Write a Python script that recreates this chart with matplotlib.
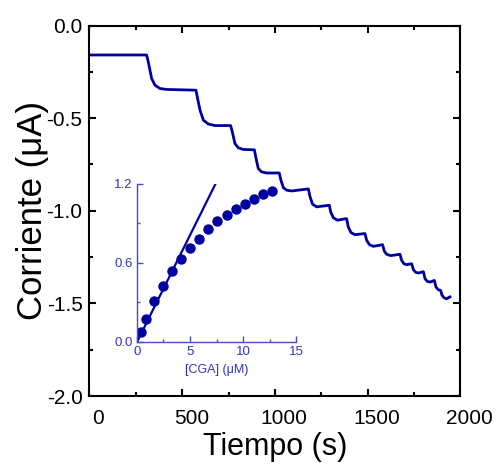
import matplotlib
matplotlib.use("Agg")
import matplotlib.pyplot as plt
import matplotlib.transforms as mtransforms
from matplotlib.ticker import MultipleLocator

plt.rcParams['font.family'] = ['Liberation Sans', 'DejaVu Sans']

# amperometric trace (time in s, current in uA)
t_trace = [0, 308, 317, 335, 353, 380, 416, 574,
           581, 596, 614, 641, 677, 761,
           772, 784, 802, 829, 889,
           898, 910, 928, 955, 1023,
           1032, 1045, 1063, 1090, 1180,
           1189, 1203, 1225, 1293,
           1300, 1314, 1336, 1386,
           1395, 1410, 1431, 1485,
           1494, 1509, 1530, 1580,
           1589, 1602, 1624, 1674,
           1683, 1695, 1710, 1737,
           1746, 1758, 1773, 1800,
           1809, 1821, 1836, 1859,
           1868, 1880, 1893,
           1900, 1912, 1925, 1943]
i_trace = [-0.159, -0.159, -0.196, -0.286, -0.322, -0.340, -0.345, -0.349,
           -0.385, -0.457, -0.511, -0.532, -0.540, -0.540,
           -0.583, -0.637, -0.660, -0.669, -0.671,
           -0.718, -0.772, -0.790, -0.796, -0.796,
           -0.835, -0.875, -0.889, -0.893, -0.882,
           -0.925, -0.965, -0.979, -0.970,
           -1.006, -1.037, -1.051, -1.042,
           -1.087, -1.118, -1.129, -1.123,
           -1.159, -1.183, -1.192, -1.183,
           -1.217, -1.235, -1.242, -1.235,
           -1.268, -1.286, -1.291, -1.286,
           -1.318, -1.332, -1.336, -1.329,
           -1.367, -1.381, -1.385, -1.376,
           -1.412, -1.426, -1.430,
           -1.455, -1.470, -1.475, -1.465]

# calibration inset
cga = [0.35, 0.82, 1.63, 2.48, 3.33, 4.18, 5.03, 5.88, 6.73, 7.58,
       8.46, 9.31, 10.16, 11.01, 11.86, 12.71]
resp = [0.073, 0.172, 0.311, 0.425, 0.541, 0.633, 0.711, 0.782, 0.855, 0.916,
        0.964, 1.007, 1.050, 1.088, 1.124, 1.149]
resp_err = [0.015] * len(cga)
fit_x = [0.0, 7.4]
fit_y = [0.0, 1.2]

navy = '#0000A0'
inset_col = '#4B4BC8'
inset_txt = '#3333BB'

fig = plt.figure(figsize=(4.96, 4.66), dpi=100)
ax = fig.add_axes([0.1804, 0.1502, 0.748, 0.795])
ax.plot(t_trace, i_trace, color=navy, lw=2.0, solid_joinstyle='round')
ax.set_xlim(0, 2000)
ax.set_ylim(-2.0, 0.0)
ax.xaxis.set_major_locator(MultipleLocator(500))
ax.xaxis.set_minor_locator(MultipleLocator(250))
ax.yaxis.set_major_locator(MultipleLocator(0.5))
ax.yaxis.set_minor_locator(MultipleLocator(0.25))
ax.yaxis.set_major_formatter(plt.FuncFormatter(lambda v, p: f"{v:.1f}"))
for s in ax.spines.values():
    s.set_linewidth(1.5)
ax.tick_params(which='both', direction='in', top=True, right=True, width=1.5)
ax.tick_params(which='major', length=5, labelsize=15)
ax.tick_params(which='minor', length=3)
ax.tick_params(axis='x', pad=9)
ax.tick_params(axis='y', pad=5)
# x tick labels sit a little right of their ticks in the original
shift = mtransforms.ScaledTranslation(9 / 100, 0, fig.dpi_scale_trans)
for lab in ax.get_xticklabels():
    lab.set_transform(lab.get_transform() + shift)
ax.set_xlabel('Tiempo (s)', fontsize=22, labelpad=3)
ax.set_ylabel('Corriente (\u03bcA)', fontsize=25, labelpad=-2)

ins = fig.add_axes([0.2762, 0.2661, 0.3206, 0.3391])
ins.patch.set_alpha(0)
ins.plot(fit_x, fit_y, color=navy, lw=1.6)
ins.errorbar(cga, resp, yerr=resp_err, fmt='o', color=navy, ms=6.5,
             ecolor='#3a3a60', elinewidth=0.6, capsize=1.5, capthick=0.6)
ins.set_xlim(0, 15)
ins.set_ylim(0, 1.2)
ins.xaxis.set_major_locator(MultipleLocator(5))
ins.xaxis.set_minor_locator(MultipleLocator(2.5))
ins.yaxis.set_major_locator(MultipleLocator(0.6))
ins.yaxis.set_minor_locator(MultipleLocator(0.3))
ins.yaxis.set_major_formatter(plt.FuncFormatter(lambda v, p: f"{v:.1f}"))
ins.spines['top'].set_visible(False)
ins.spines['right'].set_visible(False)
for s in ('left', 'bottom'):
    ins.spines[s].set_color(inset_col)
    ins.spines[s].set_linewidth(1.0)
ins.tick_params(which='both', direction='in', color=inset_col, width=1.0,
                labelcolor=inset_txt, labelsize=9.5, pad=3)
ins.tick_params(which='major', length=4)
ins.tick_params(which='minor', length=2.5)
ins.set_xlabel('[CGA] (\u03bcM)', fontsize=9, color=inset_txt, labelpad=4)

fig.savefig('out.png', dpi=100)
